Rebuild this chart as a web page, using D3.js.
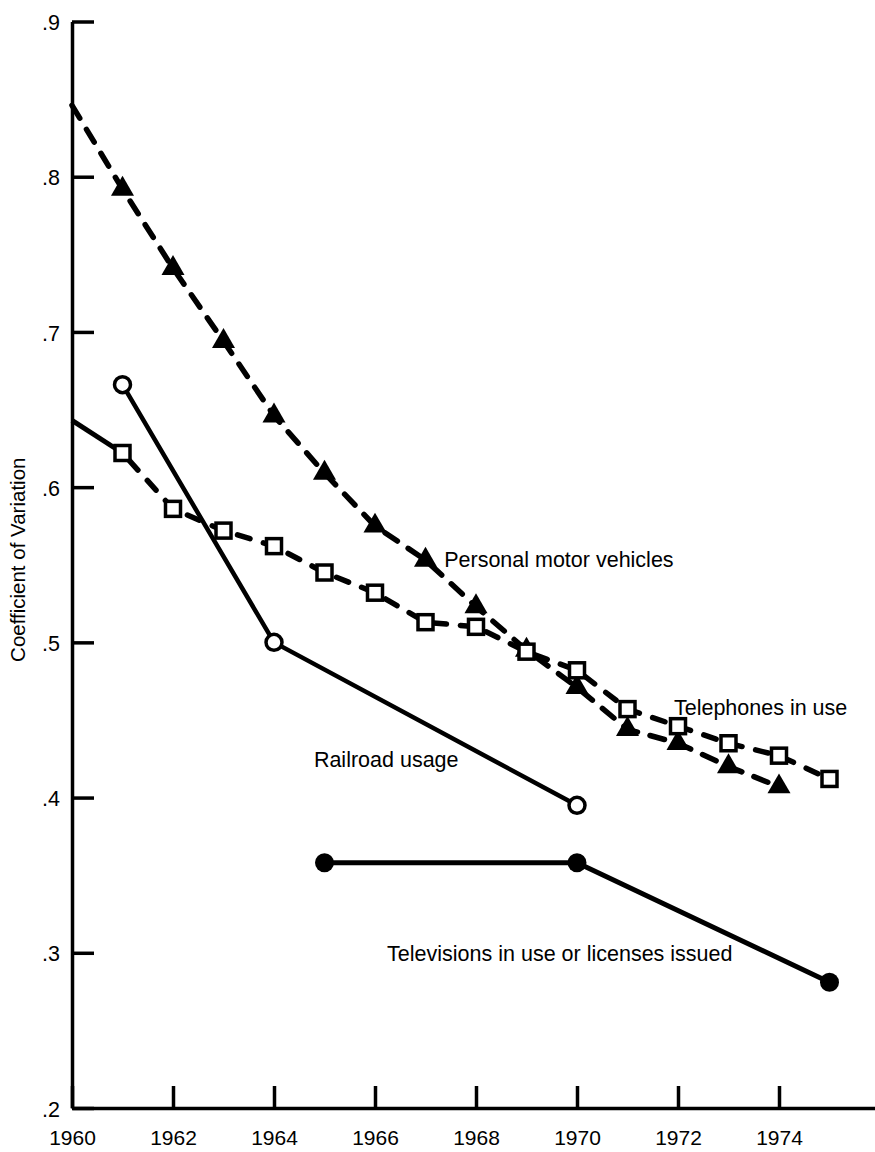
<!DOCTYPE html>
<html>
<head>
<meta charset="utf-8">
<script src="https://cdn.jsdelivr.net/npm/d3@7"></script>
<style>
  html, body { margin: 0; padding: 0; background: #fff; }
  svg { display: block; }
  text { font-family: "Liberation Sans", Arial, Helvetica, sans-serif; fill: #000; }
</style>
</head>
<body>
<svg id="chart" width="875" height="1152"></svg>
<script>
// ---- Data ----
const xTickYears = [1960, 1962, 1964, 1966, 1968, 1970, 1972, 1974];
const yTickValues = [0.2, 0.3, 0.4, 0.5, 0.6, 0.7, 0.8, 0.9];

const motorYears  = [1960, 1961, 1962, 1963, 1964, 1965, 1966, 1967, 1968, 1969, 1970, 1971, 1972, 1973, 1974];
const motorValues = [0.846, 0.792, 0.741, 0.694, 0.646, 0.609, 0.575, 0.553, 0.523, 0.495, 0.471, 0.444, 0.435, 0.420, 0.407];

const phoneYears  = [1960, 1961, 1962, 1963, 1964, 1965, 1966, 1967, 1968, 1969, 1970, 1971, 1972, 1973, 1974, 1975];
const phoneValues = [0.643, 0.622, 0.586, 0.572, 0.562, 0.545, 0.532, 0.513, 0.510, 0.494, 0.482, 0.457, 0.446, 0.435, 0.427, 0.412];

const railYears  = [1961, 1964, 1970];
const railValues = [0.666, 0.500, 0.395];

const tvYears  = [1965, 1970, 1975];
const tvValues = [0.358, 0.358, 0.281];

const seriesLabels = ["Personal motor vehicles", "Telephones in use", "Railroad usage", "Televisions in use or licenses issued"];
const labelYears   = [1967.37, 1971.92, 1964.79, 1966.24];
const labelValues  = [0.5486, 0.4532, 0.4197, 0.2947];

const yTitle = "Coefficient of Variation";

// ---- Scales ----
const svg = d3.select("#chart");
const x = d3.scaleLinear().domain([1960, 1976]).range([72, 880]);
const y = d3.scaleLinear().domain([0.2, 0.9]).range([1108, 21.5]);

const zip = (xs, vs) => xs.map((d, i) => ({ year: d, value: vs[i] }));
const motor = zip(motorYears, motorValues);
const phone = zip(phoneYears, phoneValues);
const rail = zip(railYears, railValues);
const tv = zip(tvYears, tvValues);

const line = d3.line().x(d => x(d.year)).y(d => y(d.value));
const FONT = '"Liberation Sans", Arial, Helvetica, sans-serif';

// ---- Axes ----
const yAxis = d3.axisLeft(y)
  .tickValues(yTickValues)
  .tickSize(-22)
  .tickSizeOuter(0)
  .tickPadding(12)
  .tickFormat(d => d3.format(".1f")(d).replace(/^0/, ""));
const gy = svg.append("g").attr("transform", `translate(${x(1960)},0)`).call(yAxis);
gy.selectAll("path, line").attr("stroke", "#000").attr("stroke-width", 3.5);
gy.selectAll("text").attr("font-size", 21.5).attr("dy", "0.38em").style("font-family", FONT);

const xAxis = d3.axisBottom(x)
  .tickValues(xTickYears)
  .tickSize(-22)
  .tickSizeOuter(0)
  .tickPadding(22)
  .tickFormat(d3.format("d"));
const gx = svg.append("g").attr("transform", `translate(0,${y(0.2)})`).call(xAxis);
gx.selectAll("path, line").attr("stroke", "#000").attr("stroke-width", 3.5);
gx.selectAll("text").attr("font-size", 21).style("font-family", FONT);

// Y title
svg.append("text")
  .attr("transform", `translate(25,${(y(0.5) + y(0.6)) / 2 - 5}) rotate(-90)`)
  .attr("text-anchor", "middle")
  .attr("font-size", 20.5)
  .text(yTitle);

// ---- Lines ----
// Personal motor vehicles (dashed)
svg.append("path").datum(motor).attr("d", line)
  .attr("fill", "none").attr("stroke", "#000").attr("stroke-width", 5.5)
  .attr("stroke-linecap", "round").attr("stroke-dasharray", "15,13");

// Telephones: first segment solid, rest dashed
svg.append("path").datum(phone.slice(0, 2)).attr("d", line)
  .attr("fill", "none").attr("stroke", "#000").attr("stroke-width", 5);
svg.append("path").datum(phone.slice(1)).attr("d", line)
  .attr("fill", "none").attr("stroke", "#000").attr("stroke-width", 5.5)
  .attr("stroke-linecap", "round").attr("stroke-dasharray", "13,14").attr("stroke-dashoffset", -10);

// Railroad (solid)
svg.append("path").datum(rail).attr("d", line)
  .attr("fill", "none").attr("stroke", "#000").attr("stroke-width", 4.5);

// Televisions (solid)
svg.append("path").datum(tv).attr("d", line)
  .attr("fill", "none").attr("stroke", "#000").attr("stroke-width", 5);

// ---- Markers ----
const tri = d3.symbol().type(d3.symbolTriangle).size(230);
svg.append("g").selectAll("path").data(motor.slice(1)).join("path")
  .attr("d", tri)
  .attr("transform", d => `translate(${x(d.year)},${y(d.value)})`)
  .attr("fill", "#000");

svg.append("g").selectAll("rect").data(phone.slice(1)).join("rect")
  .attr("x", d => x(d.year) - 7.5).attr("y", d => y(d.value) - 7.5)
  .attr("width", 15).attr("height", 15)
  .attr("fill", "#fff").attr("stroke", "#000").attr("stroke-width", 3.5);

svg.append("g").selectAll("circle").data(rail).join("circle")
  .attr("cx", d => x(d.year)).attr("cy", d => y(d.value)).attr("r", 8)
  .attr("fill", "#fff").attr("stroke", "#000").attr("stroke-width", 3.5);

svg.append("g").selectAll("circle").data(tv).join("circle")
  .attr("cx", d => x(d.year)).attr("cy", d => y(d.value)).attr("r", 9.5)
  .attr("fill", "#000");

// ---- Series labels ----
svg.append("g").selectAll("text").data(seriesLabels).join("text")
  .attr("x", (d, i) => x(labelYears[i]))
  .attr("y", (d, i) => y(labelValues[i]))
  .attr("font-size", 21.5)
  .text(d => d);
</script>
</body>
</html>
